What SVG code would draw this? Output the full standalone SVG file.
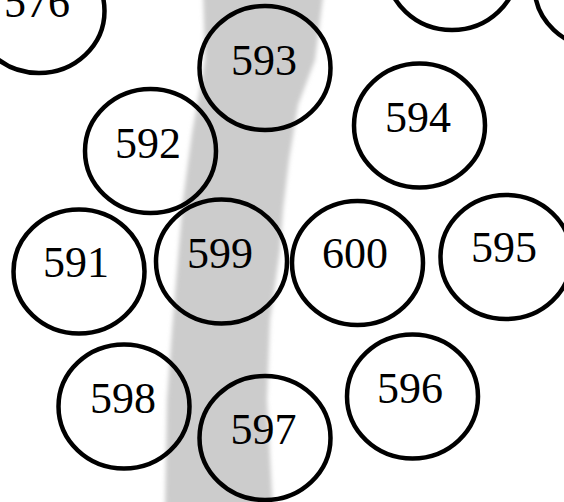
<svg xmlns="http://www.w3.org/2000/svg" width="564" height="502" viewBox="0 0 564 502">
<style>
.n ellipse{fill:none;stroke:#000;stroke-width:4.5}
.n text{font-family:"Liberation Serif","Times New Roman",serif;font-size:44px;fill:#000;text-anchor:middle}
</style>
<defs>
<filter id="blur" x="-10%" y="-5%" width="120%" height="110%"><feGaussianBlur stdDeviation="2"/></filter>
</defs>
<rect width="564" height="502" fill="#fff"/>
<path id="band" d="M203,-10 L324,-10 L322,5 L315,60 L298,105 L289,160 L283,210 L280,250 L270,320 L267,400 L273,512 L165,512 L167,400 L172,330 L177,270 L183,200 L192,133 L205,60 Z" fill="#cccccc" filter="url(#blur)"/>
<g id="connectors"/>
<g id="n576" class="n"><ellipse cx="39" cy="11" rx="65.5" ry="62"/><text x="37" y="17">576</text></g>
<g id="nTop1" class="n"><ellipse cx="452" cy="-32" rx="65.5" ry="62"/></g>
<g id="nTop2" class="n"><ellipse cx="600" cy="-14" rx="65.5" ry="62"/></g>
<g id="n593" class="n"><ellipse cx="265" cy="68" rx="65.5" ry="62"/><text x="264" y="75">593</text></g>
<g id="n592" class="n"><ellipse cx="150.5" cy="151" rx="65.5" ry="62"/><text x="148" y="158">592</text></g>
<g id="n594" class="n"><ellipse cx="419.5" cy="125.5" rx="65.5" ry="62"/><text x="418" y="132">594</text></g>
<g id="n591" class="n"><ellipse cx="79" cy="271.5" rx="65.5" ry="62"/><text x="76" y="277">591</text></g>
<g id="n599" class="n"><ellipse cx="221.5" cy="261.5" rx="65.5" ry="62"/><text x="220" y="268">599</text></g>
<g id="n600" class="n"><ellipse cx="357.5" cy="263" rx="65.5" ry="62"/><text x="355" y="268">600</text></g>
<g id="n595" class="n"><ellipse cx="506" cy="257" rx="65.5" ry="62"/><text x="504" y="262">595</text></g>
<g id="n598" class="n"><ellipse cx="124" cy="406.5" rx="65.5" ry="62"/><text x="123" y="413">598</text></g>
<g id="n597" class="n"><ellipse cx="265" cy="438" rx="65.5" ry="62"/><text x="263.5" y="444">597</text></g>
<g id="n596" class="n"><ellipse cx="412.5" cy="396.5" rx="65.5" ry="62"/><text x="410" y="403">596</text></g>
</svg>
